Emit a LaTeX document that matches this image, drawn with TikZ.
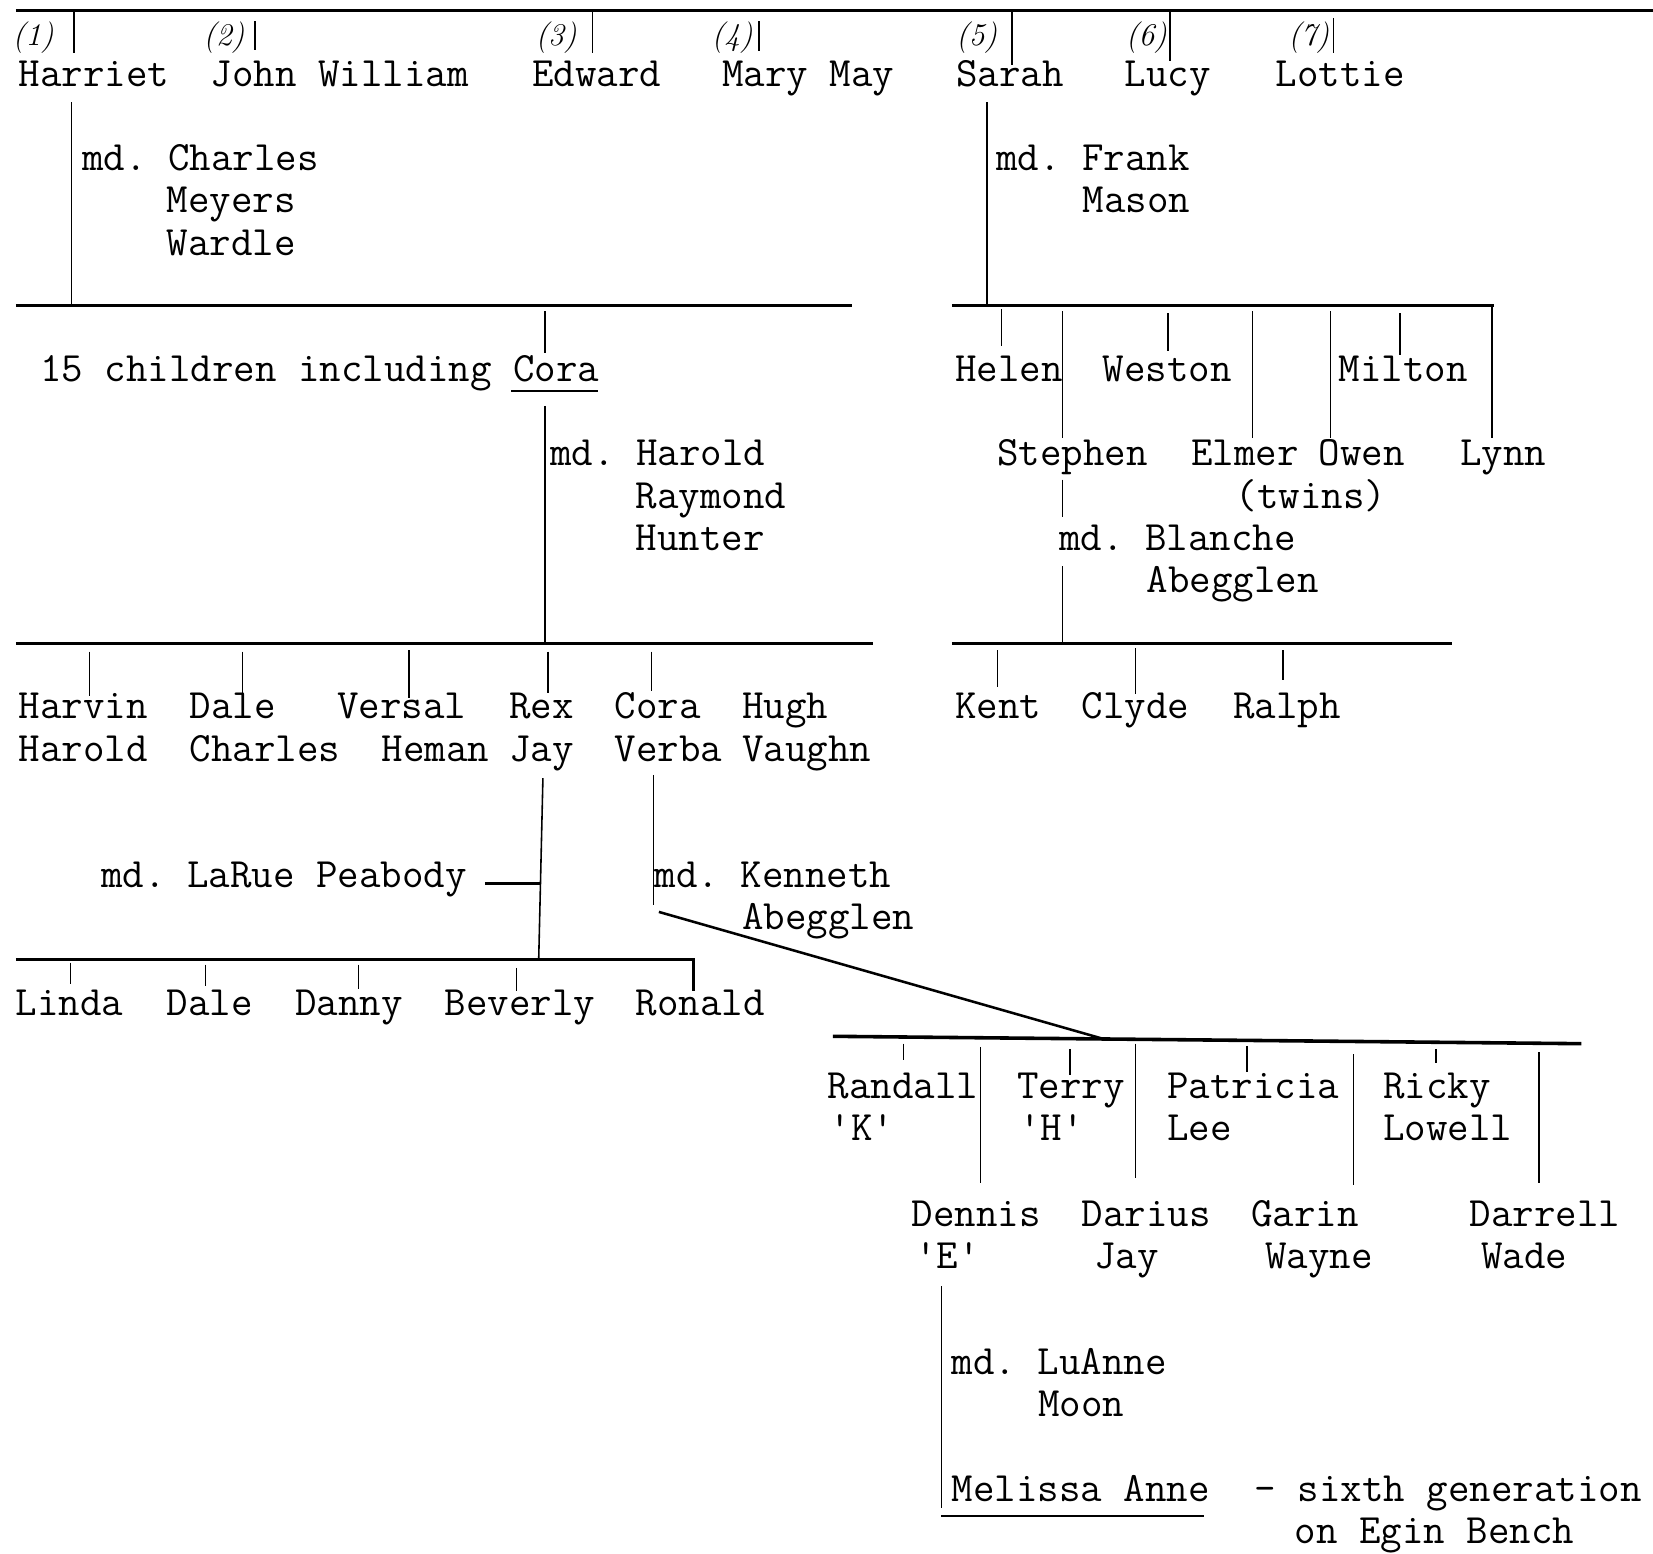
\documentclass[tikz,border=0pt]{standalone}
\usepackage{fontspec}
\newcommand\tyw{\ttfamily\frenchspacing\fontsize{19.8pt}{20pt}\selectfont}
\newcommand\hwf{\rmfamily\itshape\fontsize{15pt}{16pt}\selectfont}
\begin{document}
\begin{tikzpicture}[x=0.5pt,y=-0.5pt,
  tw/.style={anchor=base west,inner sep=0pt,outer sep=0pt,font=\tyw},
  hw/.style={anchor=base west,inner sep=0pt,outer sep=0pt,font=\hwf},
  bar/.style={line width=1.5pt},
  vl/.style={line width=0.75pt},
  ul/.style={line width=1.2pt}]
\useasboundingbox[fill=white] (0,0) rectangle (1568,1474);

% ---------- generation 1 ----------
\draw[bar] (15,10) coordinate (top1) -- (1568,10) coordinate (top2);
\node[hw] (n1) at (12,43) {(1)};
\node[hw] (n2) at (193,43) {(2)};
\node[hw] (n3) at (508,43) {(3)};
\node[hw] (n4) at (675,43) {(4)};
\node[hw] (n5) at (907,43) {(5)};
\node[hw] (n6) at (1068,43) {(6)};
\node[hw] (n7) at (1222,43) {(7)};
\draw[vl] (70,10) -- (70,50);
\draw[vl] (242,20) -- (242,47);
\draw[vl] (562,10) -- (562,50);
\draw[vl] (720,20) -- (720,48);
\draw[vl] (960,10) -- (960,62);
\draw[vl] (1110,10) -- (1110,58);
\draw[vl] (1265,17) -- (1265,50);

\node[tw] (harriet) at (18,82) {Harriet};
\node[tw] (john) at (200,82) {John William};
\node[tw] (edward) at (505,82) {Edward};
\node[tw] (mary) at (685,82) {Mary May};
\node[tw] (sarah) at (907,82) {Sarah};
\node[tw] (lucy) at (1067,82) {Lucy};
\node[tw] (lottie) at (1210,82) {Lottie};

% ---------- Harriet ----------
\draw[vl] (68,97) -- (68,290);
\node[tw] (mdcharles) at (78,162) {md. Charles};
\node[tw] (meyers) at (158,202) {Meyers};
\node[tw] (wardle) at (158,242) {Wardle};
\draw[bar] (15,290) -- (808,290);
\draw[vl] (517,295) -- (517,335);
\node[tw] (fifteen) at (38,362) {15 children including Cora};
\draw[ul] (485,371) -- (567,371);
\draw[vl] (517,385) -- (517,610);
\node[tw] (mdharold) at (522,442) {md. Harold};
\node[tw] (raymond) at (603,482) {Raymond};
\node[tw] (hunter) at (603,522) {Hunter};
\draw[bar] (15,610) -- (828,610);
\draw[vl] (85,618) -- (85,660);
\draw[vl] (230,618) -- (230,658);
\draw[vl] (388,617) -- (388,662);
\draw[vl] (520,618) -- (520,657);
\draw[vl] (618,618) -- (618,655);
\node[tw] (harvin) at (18,682) {Harvin};
\node[tw] (harold) at (18,722) {Harold};
\node[tw] (dale1) at (180,682) {Dale};
\node[tw] (charles) at (180,722) {Charles};
\node[tw] (versal) at (320,682) {Versal};
\node[tw] (heman) at (362,722) {Heman};
\node[tw] (rex) at (483,682) {Rex};
\node[tw] (jay) at (483,722) {Jay};
\node[tw] (cora) at (583,682) {Cora};
\node[tw] (verba) at (583,722) {Verba};
\node[tw] (hugh) at (704,682) {Hugh};
\node[tw] (vaughn) at (704,722) {Vaughn};

% ---------- Rex Jay ----------
\draw[vl] (515,738) -- (511,910);
\node[tw] (mdlarue) at (96,842) {md. LaRue Peabody};
\draw[ul] (460,838) -- (513,838);
\draw[bar] (15,910) -- (658,910) -- (658,940);
\draw[vl] (67,913) -- (67,933);
\draw[vl] (195,915) -- (195,935);
\draw[vl] (340,915) -- (340,938);
\draw[vl] (490,918) -- (490,940);
\node[tw] (linda) at (15,963) {Linda};
\node[tw] (dale2) at (158,963) {Dale};
\node[tw] (danny) at (280,963) {Danny};
\node[tw] (beverly) at (422,963) {Beverly};
\node[tw] (ronald) at (603,963) {Ronald};

% ---------- Cora Verba ----------
\draw[vl] (620,735) -- (620,858);
\node[tw] (mdkenneth) at (621,842) {md. Kenneth};
\node[tw] (abegglen1) at (704,882) {Abegglen};
\draw[ul] (625,865) -- (1045,985);
\draw[line width=1.7pt] (790,983) -- (1500,990);
\draw[vl] (857,990) -- (857,1005);
\draw[vl] (930,993) -- (930,1122);
\draw[vl] (1015,995) -- (1015,1020);
\draw[vl] (1077,990) -- (1077,1117);
\draw[vl] (1183,992) -- (1183,1017);
\draw[vl] (1284,1000) -- (1284,1124);
\draw[vl] (1362,995) -- (1362,1008);
\draw[vl] (1460,998) -- (1460,1122);
\node[tw] (randall) at (785,1042) {Randall};
\node[tw] (k) at (787,1082) {'K'};
\node[tw] (terry) at (965,1042) {Terry};
\node[tw] (h) at (967,1082) {'H'};
\node[tw] (patricia) at (1107,1042) {Patricia};
\node[tw] (lee) at (1107,1082) {Lee};
\node[tw] (ricky) at (1312,1042) {Ricky};
\node[tw] (lowell) at (1312,1082) {Lowell};
\node[tw] (dennis) at (865,1163) {Dennis};
\node[tw] (e) at (868,1203) {'E'};
\node[tw] (darius) at (1026,1163) {Darius};
\node[tw] (jay2) at (1038,1203) {Jay};
\node[tw] (garin) at (1187,1163) {Garin};
\node[tw] (wayne) at (1200,1203) {Wayne};
\node[tw] (darrell) at (1394,1163) {Darrell};
\node[tw] (wade) at (1405,1203) {Wade};

% ---------- Dennis ----------
\draw[vl] (893,1220) -- (893,1430);
\node[tw] (mdluanne) at (903,1304) {md. LuAnne};
\node[tw] (moon) at (985,1344) {Moon};
\node[tw] (melissa) at (903,1424) {Melissa Anne};
\draw[ul] (893,1438) -- (1142,1438);
\node[tw] (sixth) at (1190,1424) {- sixth generation};
\node[tw] (egin) at (1228,1464) {on Egin Bench};

% ---------- Sarah ----------
\draw[vl] (936,97) -- (936,290);
\node[tw] (mdfrank) at (945,162) {md. Frank};
\node[tw] (mason) at (1027,202) {Mason};
\draw[bar] (903,290) -- (1417,290);
\draw[vl] (950,293) -- (950,328);
\draw[vl] (1008,295) -- (1008,415);
\draw[vl] (1108,297) -- (1108,333);
\draw[vl] (1188,295) -- (1188,415);
\draw[vl] (1262,295) -- (1262,415);
\draw[vl] (1328,297) -- (1328,337);
\draw[vl] (1415,290) -- (1415,415);
\node[tw] (helen) at (906,362) {Helen};
\node[tw] (weston) at (1046,362) {Weston};
\node[tw] (milton) at (1270,362) {Milton};
\node[tw] (stephen) at (946,442) {Stephen};
\node[tw] (elmer) at (1130,442) {Elmer};
\node[tw] (owen) at (1251,442) {Owen};
\node[tw] (lynn) at (1385,442) {Lynn};
\node[tw] (twins) at (1172,482) {(twins)};
\draw[vl] (1008,455) -- (1008,490);
\draw[vl] (1008,537) -- (1008,610);
\node[tw] (mdblanche) at (1005,522) {md. Blanche};
\node[tw] (abegglen2) at (1088,562) {Abegglen};
\draw[bar] (903,610) -- (1377,610);
\draw[vl] (946,617) -- (946,652);
\draw[vl] (1077,615) -- (1077,658);
\draw[vl] (1217,617) -- (1217,645);
\node[tw] (kent) at (906,682) {Kent};
\node[tw] (clyde) at (1026,682) {Clyde};
\node[tw] (ralph) at (1170,682) {Ralph};
\end{tikzpicture}
\end{document}
